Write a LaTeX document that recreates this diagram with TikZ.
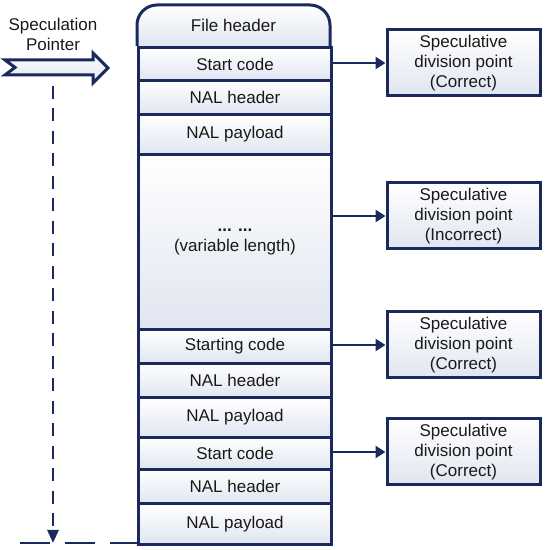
\documentclass[tikz,border=0pt]{standalone}
\usepackage{fontspec}
\setmainfont{Liberation Sans}
\usetikzlibrary{arrows.meta}
\definecolor{navy}{HTML}{1A2A5C}
\definecolor{cellbot}{HTML}{E0E5F0}
\begin{document}
\begin{tikzpicture}[x=1pt,y=1pt,
 lbl/.style={font=\fontsize{17}{20}\selectfont, text=black!90, align=center},
 cell/.style={lbl, draw=navy, line width=3pt, top color=white, bottom color=cellbot, minimum width=193pt, inner sep=0pt, anchor=north west},
 spbox/.style={lbl, draw=navy, line width=3pt, top color=white, bottom color=cellbot, minimum width=153pt, minimum height=66pt, inner sep=0pt},
 conn/.style={draw=navy, line width=2.6pt, -{Triangle[length=10pt,width=12pt]}},
 dashline/.style={draw=navy, line width=2.6pt}
]
\useasboundingbox (0,0) rectangle (549,550);

% top row with rounded top corners
\shade[top color=white, bottom color=cellbot] (137,504) -- (137,525) arc[start angle=180,end angle=90,radius=20pt] -- (310,545) arc[start angle=90,end angle=0,radius=20pt] -- (330,504) -- cycle;
\draw[navy, line width=3pt] (137,504) -- (137,525) arc[start angle=180,end angle=90,radius=20pt] -- (310,545) arc[start angle=90,end angle=0,radius=20pt] -- (330,504);
\node[lbl] (fh) at (233.5,524.5) {File header};

\node[cell, minimum height=33pt] (sc1) at (137,504) {Start code};
\node[cell, minimum height=34pt] (nh1) at (137,471) {NAL header};
\node[cell, minimum height=40pt] (np1) at (137,437) {NAL payload};
\node[cell, minimum height=175pt] (var) at (137,397) {{\bfseries ... ...}\\(variable length)};
\node[cell, minimum height=34pt] (sc2) at (137,222) {Starting code};
\node[cell, minimum height=34pt] (nh2) at (137,188) {NAL header};
\node[cell, minimum height=40pt] (np2) at (137,154) {NAL payload};
\node[cell, minimum height=32pt] (sc3) at (137,114) {Start code};
\node[cell, minimum height=34pt] (nh3) at (137,82) {NAL header};
\node[cell, minimum height=41pt] (np3) at (137,48) {NAL payload};

% speculative boxes
\node[spbox] (b1) at (463.5,487) {Speculative\\division point\\(Correct)};
\node[spbox] (b2) at (463.5,334) {Speculative\\division point\\(Incorrect)};
\node[spbox] (b3) at (463.5,205) {Speculative\\division point\\(Correct)};
\node[spbox] (b4) at (463.5,98) {Speculative\\division point\\(Correct)};

\draw[conn] (sc1.east |- b1.west) -- (b1.west);
\draw[conn] (var.east |- b2.west) -- (b2.west);
\draw[conn] (sc2.east |- b3.west) -- (b3.west);
\draw[conn] (sc3.east |- b4.west) -- (b4.west);

% speculation pointer
\node[lbl] (sp) at (53,516) {Speculation\\Pointer};
\draw[navy, line width=3pt, line join=miter, top color=white, bottom color=cellbot]
  (5,490) -- (93,490) -- (93,497) -- (108,482) -- (93,467) -- (93,475) -- (5,475) -- (15,482.5) -- cycle;

\coordinate (pt) at (53,464);
\coordinate (pb) at (53,7);
\draw[dashline, dash pattern=on 13pt off 9.5pt, -{Triangle[length=13pt,width=11pt]}] (pt) -- (pb);

\coordinate (hl) at (20,7);
\draw[dashline, dash pattern=on 30pt off 15pt] (hl) -- (hl -| np3.west);
\end{tikzpicture}
\end{document}
